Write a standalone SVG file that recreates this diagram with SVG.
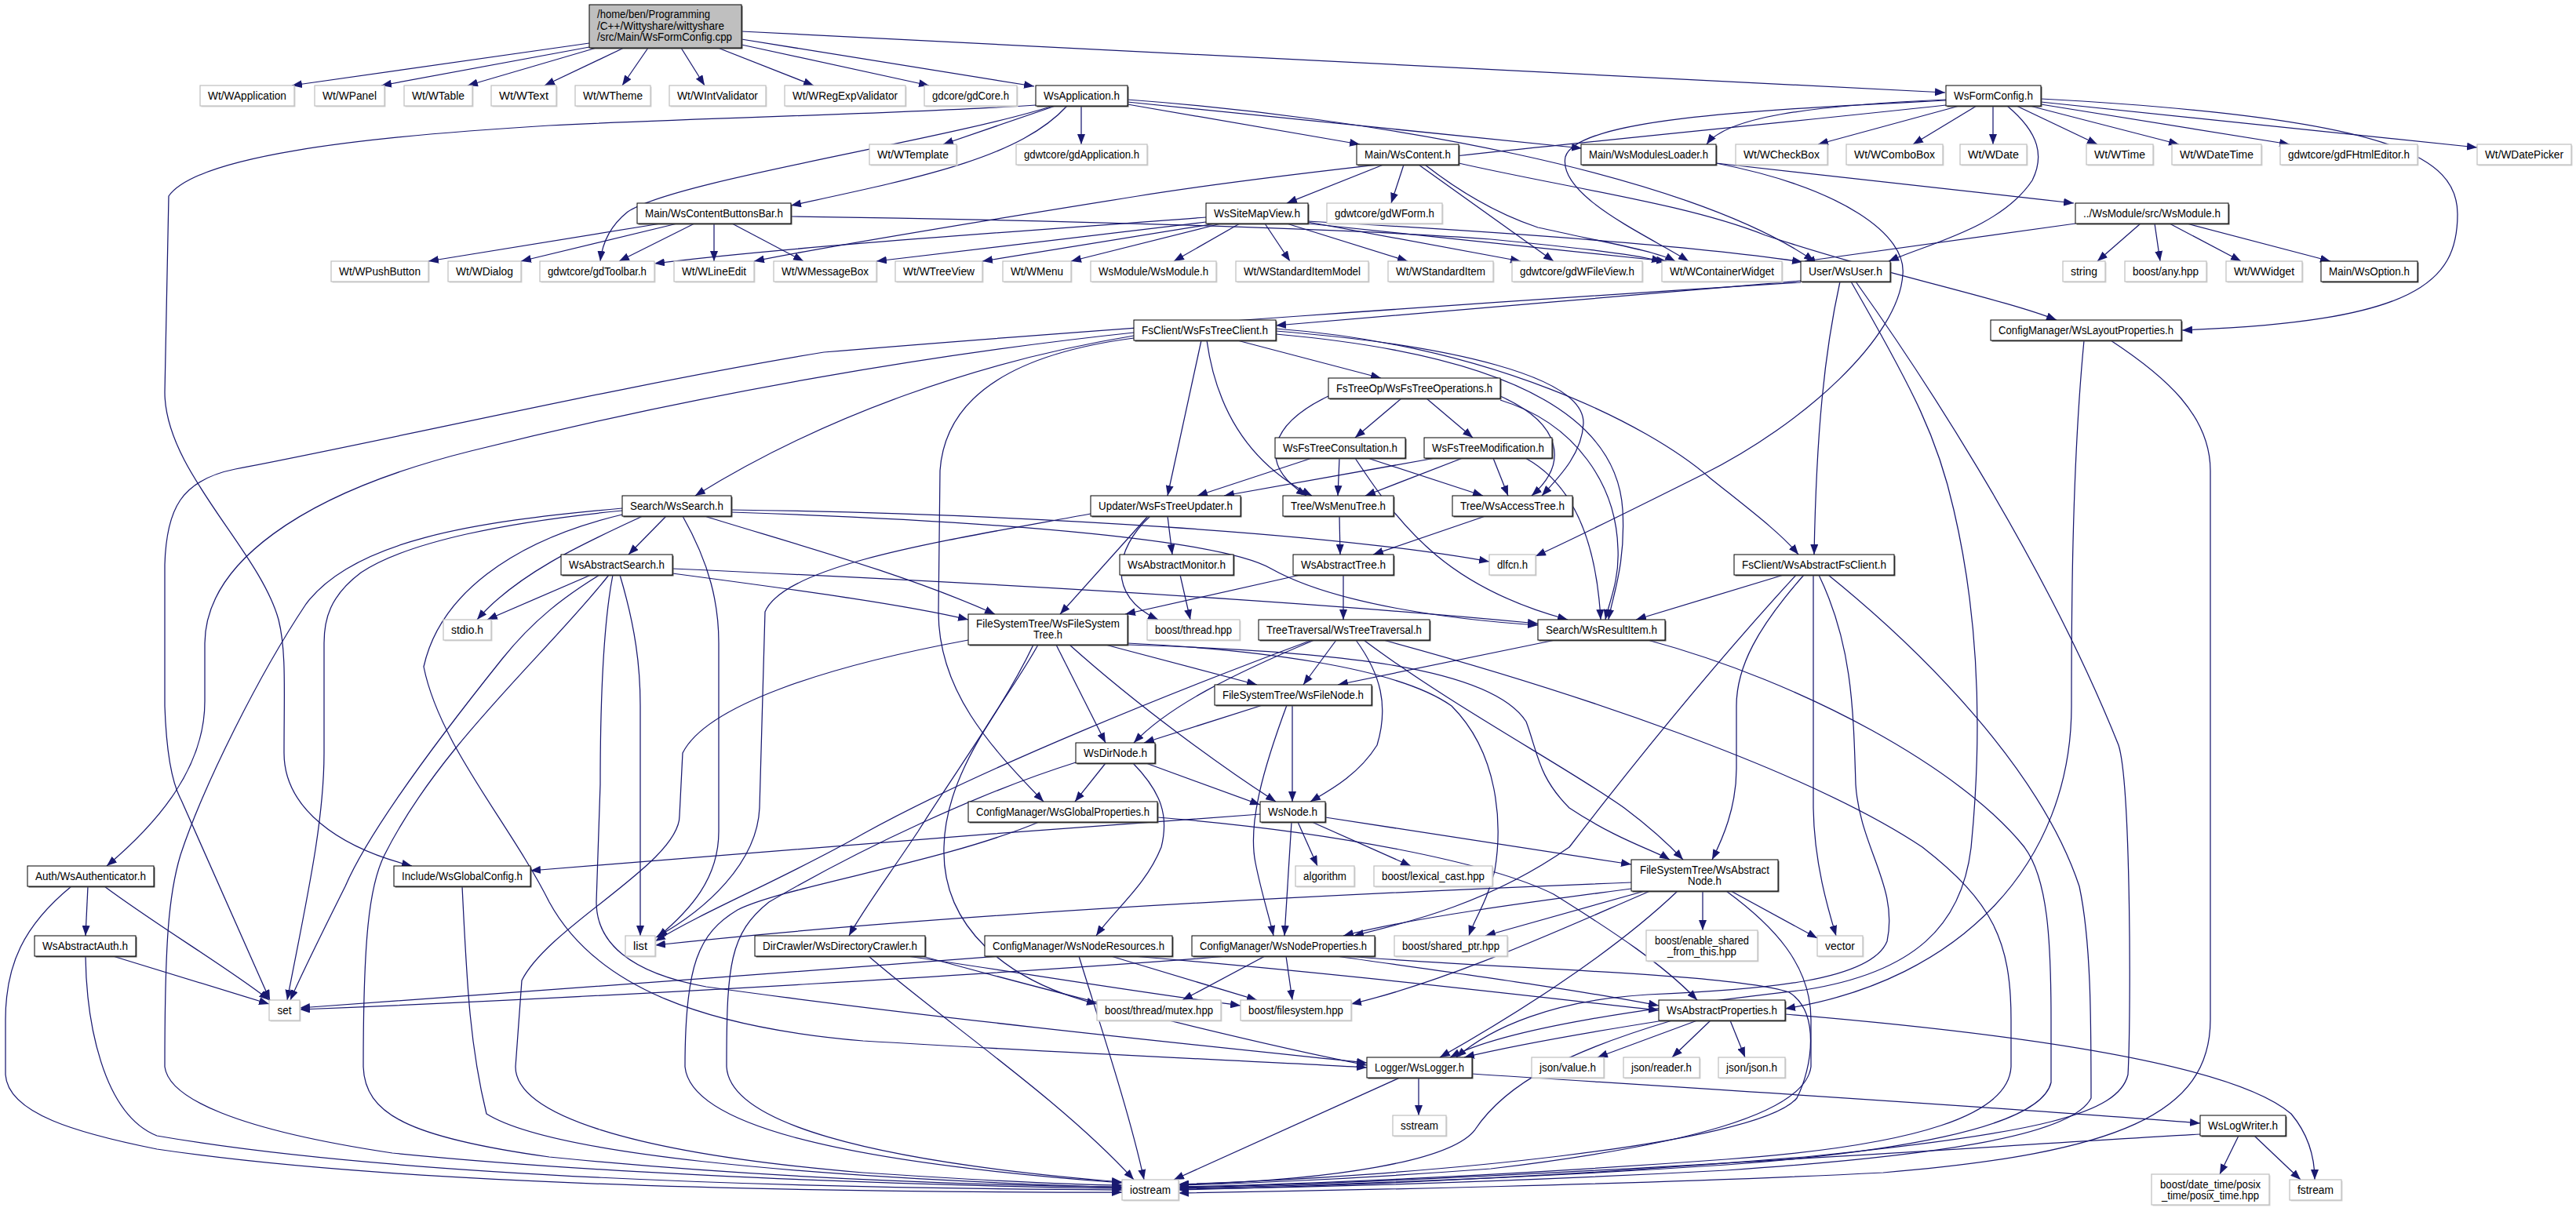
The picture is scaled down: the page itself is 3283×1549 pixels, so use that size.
<svg xmlns="http://www.w3.org/2000/svg" width="3283" height="1549" viewBox="0 0 3283 1549">
<defs>
<marker id="ah" markerUnits="userSpaceOnUse" markerWidth="14" markerHeight="10" refX="13" refY="5" orient="auto"><path d="M0,0 L13,5 L0,10 Z" fill="#191970"/></marker>
<style>
.e{fill:none;stroke:#191970;stroke-width:1.25;marker-end:url(#ah)}
.b{fill:#fff;stroke:#000;stroke-width:1}
.r{fill:#bfbfbf;stroke:#000;stroke-width:1}
.g{fill:#fff;stroke:#bfbfbf;stroke-width:1.2}
.s{fill:#555}
.sg{fill:#d6d6d6}
text{font-family:"Liberation Sans",Arial,Helvetica,sans-serif;font-size:14px;fill:#000;text-anchor:middle}
text.l{text-anchor:start}
</style>
</defs>
<rect x="0" y="0" width="3283" height="1549" fill="#fff"/>
<g id="edges">
<path class="e" d="M751,55 L372,109"/>
<path class="e" d="M751,60 L486,109"/>
<path class="e" d="M760,61 L596,109"/>
<path class="e" d="M795,61 L694,109"/>
<path class="e" d="M826,61 L793,109"/>
<path class="e" d="M868,61 L898,109"/>
<path class="e" d="M915,61 L1037,109"/>
<path class="e" d="M945,57 L1184,109"/>
<path class="e" d="M945,50 L1318,110"/>
<path class="e" d="M945,40 L2479,118"/>
<path class="e" d="M1345,135 L1202,184"/>
<path class="e" d="M1378,135 L1378,184"/>
<path class="e" d="M1437,133 L1733,184"/>
<path class="e" d="M1437,130 L2016,189"/>
<path class="e" d="M1437,127 C1750,150 2150,220 2312,333"/>
<path class="e" d="M1360,135 C1300,200 1180,225 1008,262"/>
<path class="e" d="M1342,135 C1200,180 860,230 800,270 C775,290 767,315 765,333"/>
<path class="e" d="M1320,134 C1150,145 900,150 700,160 C450,175 250,200 215,250 L210,500 C210,600 330,700 355,790 C365,830 362,880 362,960 C362,1030 430,1080 525,1104"/>
<path class="e" d="M2497,135 L2317,184"/>
<path class="e" d="M2519,135 L2438,184"/>
<path class="e" d="M2540,135 L2540,184"/>
<path class="e" d="M2570,135 L2673,184"/>
<path class="e" d="M2587,135 L2777,184"/>
<path class="e" d="M2601,133 L2918,184"/>
<path class="e" d="M2601,130 L3157,188"/>
<path class="e" d="M2601,126 C3050,150 3132,200 3132,273 C3132,360 3080,410 2781,421"/>
<path class="e" d="M2558,135 C2600,170 2605,200 2590,230 C2550,290 2460,310 2407,333"/>
<path class="e" d="M2480,134 C2150,170 1700,210 1450,250 C1200,290 1050,315 961,333"/>
<path class="e" d="M2480,127 C2300,135 2200,150 2175,184"/>
<path class="e" d="M2480,128 C2250,140 2010,150 1995,200 C1985,250 2100,300 2152,333"/>
<path class="e" d="M1763,210 L1640,259"/>
<path class="e" d="M1789,210 L1773,259"/>
<path class="e" d="M1808,210 L1980,333"/>
<path class="e" d="M1816,210 C1880,260 1930,280 1960,290 C2050,310 2110,320 2135,333"/>
<path class="e" d="M1859,208 C2000,240 2150,260 2250,300 C2400,350 2550,380 2621,408"/>
<path class="e" d="M2187,208 L2643,259"/>
<path class="e" d="M2187,208 C2350,240 2430,300 2425,350 C2420,430 2300,540 2170,605 C2080,650 2010,685 1957,709"/>
<path class="e" d="M2645,285 L2300,333"/>
<path class="e" d="M2728,285 L2673,333"/>
<path class="e" d="M2746,285 L2753,333"/>
<path class="e" d="M2765,285 L2856,333"/>
<path class="e" d="M2787,285 L2970,333"/>
<path class="e" d="M842,285 L546,333"/>
<path class="e" d="M863,285 L664,333"/>
<path class="e" d="M885,285 L789,333"/>
<path class="e" d="M910,285 L910,333"/>
<path class="e" d="M933,285 L1024,333"/>
<path class="e" d="M1008,276 C1300,280 1700,290 1900,305 C2000,315 2070,322 2118,333"/>
<path class="e" d="M1537,277 C1300,295 1000,315 834,336"/>
<path class="e" d="M1537,283 L1117,333"/>
<path class="e" d="M1549,285 L1252,333"/>
<path class="e" d="M1556,285 L1365,333"/>
<path class="e" d="M1580,285 L1496,333"/>
<path class="e" d="M1612,285 L1644,333"/>
<path class="e" d="M1640,285 L1794,333"/>
<path class="e" d="M1667,283 L1938,333"/>
<path class="e" d="M1667,285 L2124,333"/>
<path class="e" d="M1667,282 C1900,295 2150,312 2297,334"/>
<path class="e" d="M2295,358 C2100,375 1800,400 1626,415"/>
<path class="e" d="M2345,359 C2325,450 2315,550 2312,707"/>
<path class="e" d="M2295,360 C1900,385 1400,420 1050,449 C800,490 500,560 300,598 C230,612 212,650 210,720 L210,900 C212,960 220,1000 231,1020 L344,1275"/>
<path class="e" d="M2359,359 C2440,500 2470,560 2490,650 C2525,800 2525,950 2512,1081 C2500,1180 2440,1240 2300,1262 C2100,1285 1920,1310 1848,1348"/>
<path class="e" d="M2365,359 C2430,450 2600,700 2700,950 C2716,1000 2716,1300 2712,1370 C2700,1420 2600,1445 2300,1475 C2000,1500 1700,1512 1502,1517"/>
<path class="e" d="M2656,434 C2640,600 2640,800 2640,900 C2640,1100 2500,1250 2275,1286"/>
<path class="e" d="M2690,434 C2760,480 2817,530 2817,600 L2817,1300 C2817,1420 2700,1470 2400,1495 C2100,1510 1700,1518 1502,1521"/>
<path class="e" d="M1445,428 C1250,460 1050,530 886,632"/>
<path class="e" d="M1445,424 C1200,450 900,500 600,575 C380,630 262,720 261,820 L261,894 C261,980 200,1050 136,1104"/>
<path class="e" d="M1445,431 C1300,450 1205,500 1198,600 L1196,780 C1196,880 1260,950 1330,1022"/>
<path class="e" d="M1531,434 L1488,632"/>
<path class="e" d="M1538,434 C1550,520 1590,590 1672,632"/>
<path class="e" d="M1577,434 L1760,482"/>
<path class="e" d="M1626,422 C1850,440 2020,480 2018,540 C2016,580 1985,610 1965,632"/>
<path class="e" d="M1626,426 C1900,450 2060,520 2068,650 C2072,720 2055,760 2050,790"/>
<path class="e" d="M1626,419 C1900,440 2100,540 2180,610 C2230,650 2270,680 2292,707"/>
<path class="e" d="M1693,505 C1620,540 1600,590 1665,632"/>
<path class="e" d="M1786,508 L1727,558"/>
<path class="e" d="M1818,508 L1877,558"/>
<path class="e" d="M1912,505 C1990,540 2000,590 1952,632"/>
<path class="e" d="M1912,510 C2010,540 2060,620 2062,700 C2064,740 2050,770 2046,790"/>
<path class="e" d="M1672,584 L1526,632"/>
<path class="e" d="M1707,584 L1705,632"/>
<path class="e" d="M1743,584 L1890,632"/>
<path class="e" d="M1727,584 C1790,680 1850,750 1998,790"/>
<path class="e" d="M1829,584 L1560,632"/>
<path class="e" d="M1864,584 L1740,632"/>
<path class="e" d="M1903,584 L1922,632"/>
<path class="e" d="M1944,584 C2010,620 2035,700 2040,790"/>
<path class="e" d="M1390,655 C1200,690 1000,720 975,780 L968,1030 C965,1100 900,1160 836,1195"/>
<path class="e" d="M1466,658 C1420,700 1410,760 1476,790"/>
<path class="e" d="M1463,658 L1351,783"/>
<path class="e" d="M1488,658 L1494,707"/>
<path class="e" d="M1707,658 L1708,707"/>
<path class="e" d="M1893,658 L1750,707"/>
<path class="e" d="M1504,733 L1517,790"/>
<path class="e" d="M1657,733 L1434,783"/>
<path class="e" d="M1712,733 L1712,790"/>
<path class="e" d="M819,658 C750,690 660,730 608,790"/>
<path class="e" d="M849,658 L801,707"/>
<path class="e" d="M793,651 C650,665 520,690 460,730 C420,760 413,790 413,820 L413,960 C413,1050 390,1150 366,1275"/>
<path class="e" d="M793,648 C600,665 450,690 390,770 C330,860 260,1000 230,1090 C215,1140 210,1200 210,1360 C215,1400 300,1440 500,1470 C800,1500 1200,1512 1430,1515"/>
<path class="e" d="M793,656 C650,690 560,760 540,850 C560,950 650,1050 700,1150 C760,1260 900,1310 1100,1327 C1400,1345 1650,1355 1742,1361"/>
<path class="e" d="M870,658 C905,720 916,770 916,820 L916,1060 C916,1120 880,1160 838,1195"/>
<path class="e" d="M898,658 C1000,690 1150,730 1268,783"/>
<path class="e" d="M932,650 C1300,655 1700,680 1898,716"/>
<path class="e" d="M932,653 C1300,665 1560,690 1620,725 C1700,770 1850,790 1960,797"/>
<path class="e" d="M753,733 L621,790"/>
<path class="e" d="M764,733 C720,760 680,790 640,840 C560,940 470,1060 440,1130 C410,1190 385,1240 370,1275"/>
<path class="e" d="M776,733 C700,830 560,950 490,1090 C470,1130 463,1200 463,1360 C465,1420 520,1450 700,1475 C1000,1505 1300,1512 1430,1513"/>
<path class="e" d="M781,733 C768,800 765,900 765,1000 L760,1150 C760,1200 800,1240 900,1258 C1200,1300 1600,1340 1742,1355"/>
<path class="e" d="M790,733 C810,800 816,850 816,900 L816,1193"/>
<path class="e" d="M857,725 C1300,745 1700,770 1960,795"/>
<path class="e" d="M857,731 C1000,750 1150,770 1234,790"/>
<path class="e" d="M1672,816 C1500,880 1250,980 1100,1063 C1000,1120 900,1160 835,1200"/>
<path class="e" d="M1675,816 C1570,860 1490,900 1445,947"/>
<path class="e" d="M1703,816 L1661,873"/>
<path class="e" d="M1728,816 C1760,860 1770,900 1755,950 C1730,990 1690,1010 1670,1022"/>
<path class="e" d="M1738,816 C1850,900 2000,980 2070,1030 C2110,1060 2130,1080 2145,1096"/>
<path class="e" d="M1763,816 C2000,880 2300,980 2450,1080 C2540,1150 2563,1200 2563,1300 L2563,1360 C2560,1420 2450,1460 2200,1478 C1900,1500 1650,1510 1502,1513"/>
<path class="e" d="M1982,816 L1705,873"/>
<path class="e" d="M2100,816 C2300,870 2500,980 2580,1080 C2610,1120 2614,1200 2614,1300 L2614,1380 C2600,1440 2400,1470 2200,1485 C1900,1505 1650,1512 1502,1515"/>
<path class="e" d="M2273,733 L2085,790"/>
<path class="e" d="M2299,733 C2240,800 2213,850 2213,900 L2213,980 C2213,1030 2195,1070 2182,1096"/>
<path class="e" d="M2311,733 L2311,1030 C2312,1100 2330,1160 2340,1193"/>
<path class="e" d="M2289,733 C2200,830 2100,950 2000,1080 C1900,1150 1800,1175 1725,1193"/>
<path class="e" d="M2318,733 C2360,820 2362,900 2365,1000 C2370,1080 2420,1130 2405,1200 C2385,1250 2250,1262 2100,1268 C1980,1275 1900,1310 1856,1348"/>
<path class="e" d="M2330,733 C2450,830 2600,980 2650,1130 C2665,1200 2665,1300 2665,1400 C2640,1450 2450,1475 2200,1492 C1900,1508 1650,1514 1502,1516"/>
<path class="e" d="M1234,816 C1050,850 900,900 870,960 L866,1040 C866,1100 700,1180 665,1250 L657,1360 C657,1420 800,1470 1100,1495 C1300,1508 1400,1511 1430,1511"/>
<path class="e" d="M1317,822 C1280,900 1220,980 1170,1060 C1130,1120 1100,1160 1082,1193"/>
<path class="e" d="M1323,822 C1280,900 1205,980 1203,1080 C1200,1180 1280,1250 1398,1280"/>
<path class="e" d="M1346,822 L1409,947"/>
<path class="e" d="M1363,822 C1450,900 1560,980 1626,1022"/>
<path class="e" d="M1409,822 L1602,873"/>
<path class="e" d="M1437,820 C1600,828 1780,850 1850,900 C1910,960 1915,1050 1905,1110 C1895,1150 1880,1170 1872,1193"/>
<path class="e" d="M1437,822 C1700,830 1900,850 1945,920 C1960,960 1960,990 2000,1030 C2060,1070 2110,1085 2128,1096"/>
<path class="e" d="M1609,899 L1458,947"/>
<path class="e" d="M1640,899 C1610,980 1590,1050 1600,1100 C1608,1140 1618,1170 1623,1193"/>
<path class="e" d="M1647,899 L1647,1022"/>
<path class="e" d="M1371,972 C1250,1010 1100,1080 980,1150 C930,1190 926,1230 926,1360 C930,1430 1100,1480 1430,1507"/>
<path class="e" d="M1409,973 L1370,1022"/>
<path class="e" d="M1444,973 C1480,1010 1490,1040 1480,1080 C1460,1130 1420,1160 1397,1193"/>
<path class="e" d="M1458,972 L1606,1026"/>
<path class="e" d="M1324,1048 C1200,1100 1000,1130 940,1160 C890,1190 873,1230 873,1360 C880,1430 1050,1480 1430,1508"/>
<path class="e" d="M1475,1042 C1700,1060 1900,1100 1980,1140 C2060,1190 2120,1230 2163,1275"/>
<path class="e" d="M1606,1038 C1300,1060 900,1090 676,1110"/>
<path class="e" d="M1646,1048 L1637,1193"/>
<path class="e" d="M1654,1048 L1679,1104"/>
<path class="e" d="M1672,1048 L1798,1104"/>
<path class="e" d="M1689,1042 L2079,1102"/>
<path class="e" d="M2079,1125 C1700,1140 1200,1165 835,1205"/>
<path class="e" d="M2079,1133 C1950,1150 1800,1170 1712,1193"/>
<path class="e" d="M2096,1136 L1893,1193"/>
<path class="e" d="M2103,1136 C2000,1180 1850,1250 1722,1280"/>
<path class="e" d="M2138,1136 C2050,1220 1920,1300 1835,1348"/>
<path class="e" d="M2170,1136 L2170,1186"/>
<path class="e" d="M2206,1136 L2316,1196"/>
<path class="e" d="M2200,1136 C2260,1180 2308,1230 2308,1300 L2308,1360 C2300,1420 2150,1460 1900,1490 C1700,1505 1550,1510 1502,1511"/>
<path class="e" d="M1566,1219 C1300,1240 800,1270 382,1287"/>
<path class="e" d="M1612,1219 L1507,1275"/>
<path class="e" d="M1639,1219 L1647,1275"/>
<path class="e" d="M1703,1219 C1850,1240 2000,1260 2114,1282"/>
<path class="e" d="M1717,1219 C1900,1235 2200,1240 2280,1265 C2320,1290 2310,1360 2290,1400 C2240,1460 1800,1500 1502,1510"/>
<path class="e" d="M1275,1219 C1000,1240 600,1270 382,1285"/>
<path class="e" d="M1375,1219 C1400,1300 1440,1420 1458,1504"/>
<path class="e" d="M1416,1219 L1602,1275"/>
<path class="e" d="M1444,1219 C1700,1240 1950,1270 2114,1288"/>
<path class="e" d="M1107,1219 C1200,1300 1350,1400 1445,1504"/>
<path class="e" d="M1156,1219 C1300,1240 1450,1265 1581,1282"/>
<path class="e" d="M1175,1219 C1400,1280 1600,1330 1742,1358"/>
<path class="e" d="M112,1130 L109,1193"/>
<path class="e" d="M133,1130 C200,1180 300,1240 343,1275"/>
<path class="e" d="M91,1130 C30,1180 7,1230 7,1300 L7,1370 C10,1420 100,1445 200,1465 C500,1510 1000,1520 1430,1520"/>
<path class="e" d="M144,1219 L343,1280"/>
<path class="e" d="M109,1219 C110,1300 130,1420 200,1448 C500,1500 1000,1515 1430,1517"/>
<path class="e" d="M589,1130 C595,1250 598,1330 620,1420 C700,1470 1000,1500 1430,1514"/>
<path class="e" d="M1784,1374 L1496,1504"/>
<path class="e" d="M1808,1374 L1808,1422"/>
<path class="e" d="M1876,1369 C2200,1390 2600,1415 2804,1432"/>
<path class="e" d="M2120,1301 C2000,1320 1920,1335 1866,1348"/>
<path class="e" d="M2131,1301 C2000,1340 1920,1380 1880,1440 C1850,1480 1700,1505 1502,1510"/>
<path class="e" d="M2163,1301 L2036,1348"/>
<path class="e" d="M2180,1301 L2131,1348"/>
<path class="e" d="M2205,1301 L2224,1348"/>
<path class="e" d="M2275,1293 C2600,1320 2850,1360 2920,1420 C2945,1450 2950,1480 2950,1504"/>
<path class="e" d="M2853,1448 L2829,1497"/>
<path class="e" d="M2873,1448 L2932,1504"/>
<path class="e" d="M2804,1446 C2400,1470 1900,1505 1502,1514"/>
</g>
<g id="n-root"><rect class="s" x="752.5" y="7.5" width="194" height="55"/><rect class="r" x="751" y="6" width="194" height="55"/><text class="l" x="761" y="23" textLength="144" lengthAdjust="spacingAndGlyphs">/home/ben/Programming</text><text class="l" x="761" y="38" textLength="162" lengthAdjust="spacingAndGlyphs">/C++/Wittyshare/wittyshare</text><text class="l" x="761" y="52" textLength="172" lengthAdjust="spacingAndGlyphs">/src/Main/WsFormConfig.cpp</text></g>
<g id="n-wapp"><rect class="sg" x="256.5" y="110.5" width="120" height="26"/><rect class="g" x="255" y="109" width="120" height="26"/><text x="315" y="127" textLength="100" lengthAdjust="spacingAndGlyphs">Wt/WApplication</text></g>
<g id="n-wpanel"><rect class="sg" x="402.5" y="110.5" width="89" height="26"/><rect class="g" x="401" y="109" width="89" height="26"/><text x="445.5" y="127" textLength="69" lengthAdjust="spacingAndGlyphs">Wt/WPanel</text></g>
<g id="n-wtable"><rect class="sg" x="516.5" y="110.5" width="87" height="26"/><rect class="g" x="515" y="109" width="87" height="26"/><text x="558.5" y="127" textLength="67" lengthAdjust="spacingAndGlyphs">Wt/WTable</text></g>
<g id="n-wtext"><rect class="sg" x="627.5" y="110.5" width="83" height="26"/><rect class="g" x="626" y="109" width="83" height="26"/><text x="667.5" y="127" textLength="63" lengthAdjust="spacingAndGlyphs">Wt/WText</text></g>
<g id="n-wtheme"><rect class="sg" x="734.5" y="110.5" width="96" height="26"/><rect class="g" x="733" y="109" width="96" height="26"/><text x="781" y="127" textLength="76" lengthAdjust="spacingAndGlyphs">Wt/WTheme</text></g>
<g id="n-wintval"><rect class="sg" x="854.5" y="110.5" width="123" height="26"/><rect class="g" x="853" y="109" width="123" height="26"/><text x="914.5" y="127" textLength="103" lengthAdjust="spacingAndGlyphs">Wt/WIntValidator</text></g>
<g id="n-wregexp"><rect class="sg" x="1001.5" y="110.5" width="154" height="26"/><rect class="g" x="1000" y="109" width="154" height="26"/><text x="1077" y="127" textLength="134" lengthAdjust="spacingAndGlyphs">Wt/WRegExpValidator</text></g>
<g id="n-gdcore"><rect class="sg" x="1179.5" y="110.5" width="118" height="26"/><rect class="g" x="1178" y="109" width="118" height="26"/><text x="1237" y="127" textLength="98" lengthAdjust="spacingAndGlyphs">gdcore/gdCore.h</text></g>
<g id="n-wsapp"><rect class="s" x="1321.5" y="110.5" width="117" height="26"/><rect class="b" x="1320" y="109" width="117" height="26"/><text x="1378.5" y="127" textLength="97" lengthAdjust="spacingAndGlyphs">WsApplication.h</text></g>
<g id="n-wsformcfg"><rect class="s" x="2481.5" y="110.5" width="121" height="26"/><rect class="b" x="2480" y="109" width="121" height="26"/><text x="2540.5" y="127" textLength="101" lengthAdjust="spacingAndGlyphs">WsFormConfig.h</text></g>
<g id="n-wtemplate"><rect class="sg" x="1109.5" y="185.5" width="111" height="26"/><rect class="g" x="1108" y="184" width="111" height="26"/><text x="1163.5" y="202" textLength="91" lengthAdjust="spacingAndGlyphs">Wt/WTemplate</text></g>
<g id="n-gdapp"><rect class="sg" x="1296.5" y="185.5" width="167" height="26"/><rect class="g" x="1295" y="184" width="167" height="26"/><text x="1378.5" y="202" textLength="147" lengthAdjust="spacingAndGlyphs">gdwtcore/gdApplication.h</text></g>
<g id="n-wscontent"><rect class="s" x="1730.5" y="185.5" width="130" height="26"/><rect class="b" x="1729" y="184" width="130" height="26"/><text x="1794" y="202" textLength="110" lengthAdjust="spacingAndGlyphs">Main/WsContent.h</text></g>
<g id="n-wsmodloader"><rect class="s" x="2016.5" y="185.5" width="172" height="26"/><rect class="b" x="2015" y="184" width="172" height="26"/><text x="2101" y="202" textLength="152" lengthAdjust="spacingAndGlyphs">Main/WsModulesLoader.h</text></g>
<g id="n-wcheckbox"><rect class="sg" x="2213.5" y="185.5" width="117" height="26"/><rect class="g" x="2212" y="184" width="117" height="26"/><text x="2270.5" y="202" textLength="97" lengthAdjust="spacingAndGlyphs">Wt/WCheckBox</text></g>
<g id="n-wcombobox"><rect class="sg" x="2354.5" y="185.5" width="123" height="26"/><rect class="g" x="2353" y="184" width="123" height="26"/><text x="2414.5" y="202" textLength="103" lengthAdjust="spacingAndGlyphs">Wt/WComboBox</text></g>
<g id="n-wdate"><rect class="sg" x="2499.5" y="185.5" width="85" height="26"/><rect class="g" x="2498" y="184" width="85" height="26"/><text x="2540.5" y="202" textLength="65" lengthAdjust="spacingAndGlyphs">Wt/WDate</text></g>
<g id="n-wtime"><rect class="sg" x="2660.5" y="185.5" width="85" height="26"/><rect class="g" x="2659" y="184" width="85" height="26"/><text x="2701.5" y="202" textLength="65" lengthAdjust="spacingAndGlyphs">Wt/WTime</text></g>
<g id="n-wdatetime"><rect class="sg" x="2769.5" y="185.5" width="114" height="26"/><rect class="g" x="2768" y="184" width="114" height="26"/><text x="2825" y="202" textLength="94" lengthAdjust="spacingAndGlyphs">Wt/WDateTime</text></g>
<g id="n-gdfhtml"><rect class="sg" x="2907.5" y="185.5" width="175" height="26"/><rect class="g" x="2906" y="184" width="175" height="26"/><text x="2993.5" y="202" textLength="155" lengthAdjust="spacingAndGlyphs">gdwtcore/gdFHtmlEditor.h</text></g>
<g id="n-wdatepicker"><rect class="sg" x="3158.5" y="185.5" width="120" height="26"/><rect class="g" x="3157" y="184" width="120" height="26"/><text x="3217" y="202" textLength="100" lengthAdjust="spacingAndGlyphs">Wt/WDatePicker</text></g>
<g id="n-wscontentbb"><rect class="s" x="813.5" y="260.5" width="196" height="26"/><rect class="b" x="812" y="259" width="196" height="26"/><text x="910" y="277" textLength="176" lengthAdjust="spacingAndGlyphs">Main/WsContentButtonsBar.h</text></g>
<g id="n-wssitemap"><rect class="s" x="1538.5" y="260.5" width="130" height="26"/><rect class="b" x="1537" y="259" width="130" height="26"/><text x="1602" y="277" textLength="110" lengthAdjust="spacingAndGlyphs">WsSiteMapView.h</text></g>
<g id="n-gdwform"><rect class="sg" x="1692.5" y="260.5" width="147" height="26"/><rect class="g" x="1691" y="259" width="147" height="26"/><text x="1764.5" y="277" textLength="127" lengthAdjust="spacingAndGlyphs">gdwtcore/gdWForm.h</text></g>
<g id="n-wsmodsrc"><rect class="s" x="2646.5" y="260.5" width="195" height="26"/><rect class="b" x="2645" y="259" width="195" height="26"/><text x="2742.5" y="277" textLength="175" lengthAdjust="spacingAndGlyphs">../WsModule/src/WsModule.h</text></g>
<g id="n-wpushbutton"><rect class="sg" x="423.5" y="334.5" width="124" height="26"/><rect class="g" x="422" y="333" width="124" height="26"/><text x="484" y="351" textLength="104" lengthAdjust="spacingAndGlyphs">Wt/WPushButton</text></g>
<g id="n-wdialog"><rect class="sg" x="572.5" y="334.5" width="93" height="26"/><rect class="g" x="571" y="333" width="93" height="26"/><text x="617.5" y="351" textLength="73" lengthAdjust="spacingAndGlyphs">Wt/WDialog</text></g>
<g id="n-gdtoolbar"><rect class="sg" x="689.5" y="334.5" width="146" height="26"/><rect class="g" x="688" y="333" width="146" height="26"/><text x="761" y="351" textLength="126" lengthAdjust="spacingAndGlyphs">gdwtcore/gdToolbar.h</text></g>
<g id="n-wlineedit"><rect class="sg" x="860.5" y="334.5" width="102" height="26"/><rect class="g" x="859" y="333" width="102" height="26"/><text x="910" y="351" textLength="82" lengthAdjust="spacingAndGlyphs">Wt/WLineEdit</text></g>
<g id="n-wmsgbox"><rect class="sg" x="987.5" y="334.5" width="131" height="26"/><rect class="g" x="986" y="333" width="131" height="26"/><text x="1051.5" y="351" textLength="111" lengthAdjust="spacingAndGlyphs">Wt/WMessageBox</text></g>
<g id="n-wtreeview"><rect class="sg" x="1142.5" y="334.5" width="111" height="26"/><rect class="g" x="1141" y="333" width="111" height="26"/><text x="1196.5" y="351" textLength="91" lengthAdjust="spacingAndGlyphs">Wt/WTreeView</text></g>
<g id="n-wmenu"><rect class="sg" x="1279.5" y="334.5" width="87" height="26"/><rect class="g" x="1278" y="333" width="87" height="26"/><text x="1321.5" y="351" textLength="67" lengthAdjust="spacingAndGlyphs">Wt/WMenu</text></g>
<g id="n-wsmodmod"><rect class="sg" x="1391.5" y="334.5" width="160" height="26"/><rect class="g" x="1390" y="333" width="160" height="26"/><text x="1470" y="351" textLength="140" lengthAdjust="spacingAndGlyphs">WsModule/WsModule.h</text></g>
<g id="n-wstdmodel"><rect class="sg" x="1576.5" y="334.5" width="169" height="26"/><rect class="g" x="1575" y="333" width="169" height="26"/><text x="1659.5" y="351" textLength="149" lengthAdjust="spacingAndGlyphs">Wt/WStandardItemModel</text></g>
<g id="n-wstditem"><rect class="sg" x="1770.5" y="334.5" width="134" height="26"/><rect class="g" x="1769" y="333" width="134" height="26"/><text x="1836" y="351" textLength="114" lengthAdjust="spacingAndGlyphs">Wt/WStandardItem</text></g>
<g id="n-gdwfileview"><rect class="sg" x="1928.5" y="334.5" width="166" height="26"/><rect class="g" x="1927" y="333" width="166" height="26"/><text x="2010" y="351" textLength="146" lengthAdjust="spacingAndGlyphs">gdwtcore/gdWFileView.h</text></g>
<g id="n-wcontainer"><rect class="sg" x="2119.5" y="334.5" width="153" height="26"/><rect class="g" x="2118" y="333" width="153" height="26"/><text x="2194.5" y="351" textLength="133" lengthAdjust="spacingAndGlyphs">Wt/WContainerWidget</text></g>
<g id="n-wsuser"><rect class="s" x="2296.5" y="334.5" width="114" height="26"/><rect class="b" x="2295" y="333" width="114" height="26"/><text x="2352" y="351" textLength="94" lengthAdjust="spacingAndGlyphs">User/WsUser.h</text></g>
<g id="n-string"><rect class="sg" x="2630.5" y="334.5" width="54" height="26"/><rect class="g" x="2629" y="333" width="54" height="26"/><text x="2656" y="351" textLength="34" lengthAdjust="spacingAndGlyphs">string</text></g>
<g id="n-boostany"><rect class="sg" x="2709.5" y="334.5" width="104" height="26"/><rect class="g" x="2708" y="333" width="104" height="26"/><text x="2760" y="351" textLength="84" lengthAdjust="spacingAndGlyphs">boost/any.hpp</text></g>
<g id="n-wwidget"><rect class="sg" x="2838.5" y="334.5" width="97" height="26"/><rect class="g" x="2837" y="333" width="97" height="26"/><text x="2885.5" y="351" textLength="77" lengthAdjust="spacingAndGlyphs">Wt/WWidget</text></g>
<g id="n-wsoption"><rect class="s" x="2959.5" y="334.5" width="123" height="26"/><rect class="b" x="2958" y="333" width="123" height="26"/><text x="3019.5" y="351" textLength="103" lengthAdjust="spacingAndGlyphs">Main/WsOption.h</text></g>
<g id="n-fstreeclient"><rect class="s" x="1446.5" y="409.5" width="181" height="26"/><rect class="b" x="1445" y="408" width="181" height="26"/><text x="1535.5" y="426" textLength="161" lengthAdjust="spacingAndGlyphs">FsClient/WsFsTreeClient.h</text></g>
<g id="n-layoutprops"><rect class="s" x="2538.5" y="409.5" width="243" height="26"/><rect class="b" x="2537" y="408" width="243" height="26"/><text x="2658.5" y="426" textLength="223" lengthAdjust="spacingAndGlyphs">ConfigManager/WsLayoutProperties.h</text></g>
<g id="n-fstreeops"><rect class="s" x="1694.5" y="483.5" width="219" height="26"/><rect class="b" x="1693" y="482" width="219" height="26"/><text x="1802.5" y="500" textLength="199" lengthAdjust="spacingAndGlyphs">FsTreeOp/WsFsTreeOperations.h</text></g>
<g id="n-consult"><rect class="s" x="1626.5" y="559.5" width="166" height="26"/><rect class="b" x="1625" y="558" width="166" height="26"/><text x="1708" y="576" textLength="146" lengthAdjust="spacingAndGlyphs">WsFsTreeConsultation.h</text></g>
<g id="n-modif"><rect class="s" x="1816.5" y="559.5" width="163" height="26"/><rect class="b" x="1815" y="558" width="163" height="26"/><text x="1896.5" y="576" textLength="143" lengthAdjust="spacingAndGlyphs">WsFsTreeModification.h</text></g>
<g id="n-wssearch"><rect class="s" x="794.5" y="633.5" width="139" height="26"/><rect class="b" x="793" y="632" width="139" height="26"/><text x="862.5" y="650" textLength="119" lengthAdjust="spacingAndGlyphs">Search/WsSearch.h</text></g>
<g id="n-updater"><rect class="s" x="1391.5" y="633.5" width="191" height="26"/><rect class="b" x="1390" y="632" width="191" height="26"/><text x="1485.5" y="650" textLength="171" lengthAdjust="spacingAndGlyphs">Updater/WsFsTreeUpdater.h</text></g>
<g id="n-menutree"><rect class="s" x="1636.5" y="633.5" width="141" height="26"/><rect class="b" x="1635" y="632" width="141" height="26"/><text x="1705.5" y="650" textLength="121" lengthAdjust="spacingAndGlyphs">Tree/WsMenuTree.h</text></g>
<g id="n-accesstree"><rect class="s" x="1852.5" y="633.5" width="153" height="26"/><rect class="b" x="1851" y="632" width="153" height="26"/><text x="1927.5" y="650" textLength="133" lengthAdjust="spacingAndGlyphs">Tree/WsAccessTree.h</text></g>
<g id="n-abssearch"><rect class="s" x="716.5" y="708.5" width="142" height="26"/><rect class="b" x="715" y="707" width="142" height="26"/><text x="786" y="725" textLength="122" lengthAdjust="spacingAndGlyphs">WsAbstractSearch.h</text></g>
<g id="n-absmonitor"><rect class="s" x="1428.5" y="708.5" width="145" height="26"/><rect class="b" x="1427" y="707" width="145" height="26"/><text x="1499.5" y="725" textLength="125" lengthAdjust="spacingAndGlyphs">WsAbstractMonitor.h</text></g>
<g id="n-abstree"><rect class="s" x="1649.5" y="708.5" width="128" height="26"/><rect class="b" x="1648" y="707" width="128" height="26"/><text x="1712" y="725" textLength="108" lengthAdjust="spacingAndGlyphs">WsAbstractTree.h</text></g>
<g id="n-dlfcn"><rect class="sg" x="1899.5" y="708.5" width="59" height="26"/><rect class="g" x="1898" y="707" width="59" height="26"/><text x="1927.5" y="725" textLength="39" lengthAdjust="spacingAndGlyphs">dlfcn.h</text></g>
<g id="n-absfsclient"><rect class="s" x="2211.5" y="708.5" width="204" height="26"/><rect class="b" x="2210" y="707" width="204" height="26"/><text x="2312" y="725" textLength="184" lengthAdjust="spacingAndGlyphs">FsClient/WsAbstractFsClient.h</text></g>
<g id="n-stdio"><rect class="sg" x="566.5" y="791.5" width="61" height="26"/><rect class="g" x="565" y="790" width="61" height="26"/><text x="595.5" y="808" textLength="41" lengthAdjust="spacingAndGlyphs">stdio.h</text></g>
<g id="n-fstree"><rect class="s" x="1235.5" y="784.5" width="203" height="39"/><rect class="b" x="1234" y="783" width="203" height="39"/><text x="1335.5" y="800" textLength="183" lengthAdjust="spacingAndGlyphs">FileSystemTree/WsFileSystem</text><text x="1335.5" y="814" textLength="37" lengthAdjust="spacingAndGlyphs">Tree.h</text></g>
<g id="n-boostthread"><rect class="sg" x="1463.5" y="791.5" width="118" height="26"/><rect class="g" x="1462" y="790" width="118" height="26"/><text x="1521" y="808" textLength="98" lengthAdjust="spacingAndGlyphs">boost/thread.hpp</text></g>
<g id="n-treetrav"><rect class="s" x="1605.5" y="791.5" width="218" height="26"/><rect class="b" x="1604" y="790" width="218" height="26"/><text x="1713" y="808" textLength="198" lengthAdjust="spacingAndGlyphs">TreeTraversal/WsTreeTraversal.h</text></g>
<g id="n-resultitem"><rect class="s" x="1961.5" y="791.5" width="162" height="26"/><rect class="b" x="1960" y="790" width="162" height="26"/><text x="2041" y="808" textLength="142" lengthAdjust="spacingAndGlyphs">Search/WsResultItem.h</text></g>
<g id="n-filenode"><rect class="s" x="1549.5" y="874.5" width="200" height="26"/><rect class="b" x="1548" y="873" width="200" height="26"/><text x="1648" y="891" textLength="180" lengthAdjust="spacingAndGlyphs">FileSystemTree/WsFileNode.h</text></g>
<g id="n-dirnode"><rect class="s" x="1372.5" y="948.5" width="101" height="26"/><rect class="b" x="1371" y="947" width="101" height="26"/><text x="1421.5" y="965" textLength="81" lengthAdjust="spacingAndGlyphs">WsDirNode.h</text></g>
<g id="n-globalprops"><rect class="s" x="1235.5" y="1023.5" width="241" height="26"/><rect class="b" x="1234" y="1022" width="241" height="26"/><text x="1354.5" y="1040" textLength="221" lengthAdjust="spacingAndGlyphs">ConfigManager/WsGlobalProperties.h</text></g>
<g id="n-wsnode"><rect class="s" x="1607.5" y="1023.5" width="83" height="26"/><rect class="b" x="1606" y="1022" width="83" height="26"/><text x="1647.5" y="1040" textLength="63" lengthAdjust="spacingAndGlyphs">WsNode.h</text></g>
<g id="n-auth"><rect class="s" x="36.5" y="1105.5" width="161" height="26"/><rect class="b" x="35" y="1104" width="161" height="26"/><text x="115.5" y="1122" textLength="141" lengthAdjust="spacingAndGlyphs">Auth/WsAuthenticator.h</text></g>
<g id="n-globalcfg"><rect class="s" x="503.5" y="1105.5" width="174" height="26"/><rect class="b" x="502" y="1104" width="174" height="26"/><text x="589" y="1122" textLength="154" lengthAdjust="spacingAndGlyphs">Include/WsGlobalConfig.h</text></g>
<g id="n-algorithm"><rect class="sg" x="1652.5" y="1105.5" width="75" height="26"/><rect class="g" x="1651" y="1104" width="75" height="26"/><text x="1688.5" y="1122" textLength="55" lengthAdjust="spacingAndGlyphs">algorithm</text></g>
<g id="n-lexcast"><rect class="sg" x="1752.5" y="1105.5" width="151" height="26"/><rect class="g" x="1751" y="1104" width="151" height="26"/><text x="1826.5" y="1122" textLength="131" lengthAdjust="spacingAndGlyphs">boost/lexical_cast.hpp</text></g>
<g id="n-absnode"><rect class="s" x="2080.5" y="1097.5" width="187" height="40"/><rect class="b" x="2079" y="1096" width="187" height="40"/><text x="2172.5" y="1114" textLength="165" lengthAdjust="spacingAndGlyphs">FileSystemTree/WsAbstract</text><text x="2172.5" y="1128" textLength="43" lengthAdjust="spacingAndGlyphs">Node.h</text></g>
<g id="n-absauth"><rect class="s" x="45.5" y="1194.5" width="129" height="26"/><rect class="b" x="44" y="1193" width="129" height="26"/><text x="108.5" y="1211" textLength="109" lengthAdjust="spacingAndGlyphs">WsAbstractAuth.h</text></g>
<g id="n-list"><rect class="sg" x="798.5" y="1194.5" width="38" height="26"/><rect class="g" x="797" y="1193" width="38" height="26"/><text x="816" y="1211" textLength="18" lengthAdjust="spacingAndGlyphs">list</text></g>
<g id="n-dircrawler"><rect class="s" x="963.5" y="1194.5" width="217" height="26"/><rect class="b" x="962" y="1193" width="217" height="26"/><text x="1070.5" y="1211" textLength="197" lengthAdjust="spacingAndGlyphs">DirCrawler/WsDirectoryCrawler.h</text></g>
<g id="n-noderes"><rect class="s" x="1256.5" y="1194.5" width="239" height="26"/><rect class="b" x="1255" y="1193" width="239" height="26"/><text x="1374.5" y="1211" textLength="219" lengthAdjust="spacingAndGlyphs">ConfigManager/WsNodeResources.h</text></g>
<g id="n-nodeprops"><rect class="s" x="1520.5" y="1194.5" width="233" height="26"/><rect class="b" x="1519" y="1193" width="233" height="26"/><text x="1635.5" y="1211" textLength="213" lengthAdjust="spacingAndGlyphs">ConfigManager/WsNodeProperties.h</text></g>
<g id="n-sharedptr"><rect class="sg" x="1778.5" y="1194.5" width="144" height="26"/><rect class="g" x="1777" y="1193" width="144" height="26"/><text x="1849" y="1211" textLength="124" lengthAdjust="spacingAndGlyphs">boost/shared_ptr.hpp</text></g>
<g id="n-enableshared"><rect class="sg" x="2099.5" y="1187.5" width="142" height="39"/><rect class="g" x="2098" y="1186" width="142" height="39"/><text x="2169" y="1204" textLength="120" lengthAdjust="spacingAndGlyphs">boost/enable_shared</text><text x="2169" y="1218" textLength="88" lengthAdjust="spacingAndGlyphs">_from_this.hpp</text></g>
<g id="n-vector"><rect class="sg" x="2317.5" y="1194.5" width="58" height="26"/><rect class="g" x="2316" y="1193" width="58" height="26"/><text x="2345" y="1211" textLength="38" lengthAdjust="spacingAndGlyphs">vector</text></g>
<g id="n-set"><rect class="sg" x="344.5" y="1276.5" width="39" height="26"/><rect class="g" x="343" y="1275" width="39" height="26"/><text x="362.5" y="1293" textLength="18" lengthAdjust="spacingAndGlyphs">set</text></g>
<g id="n-mutex"><rect class="sg" x="1399.5" y="1276.5" width="158" height="26"/><rect class="g" x="1398" y="1275" width="158" height="26"/><text x="1477" y="1293" textLength="138" lengthAdjust="spacingAndGlyphs">boost/thread/mutex.hpp</text></g>
<g id="n-filesystem"><rect class="sg" x="1582.5" y="1276.5" width="141" height="26"/><rect class="g" x="1581" y="1275" width="141" height="26"/><text x="1651.5" y="1293" textLength="121" lengthAdjust="spacingAndGlyphs">boost/filesystem.hpp</text></g>
<g id="n-absprops"><rect class="s" x="2115.5" y="1276.5" width="161" height="26"/><rect class="b" x="2114" y="1275" width="161" height="26"/><text x="2194.5" y="1293" textLength="141" lengthAdjust="spacingAndGlyphs">WsAbstractProperties.h</text></g>
<g id="n-logger"><rect class="s" x="1743.5" y="1349.5" width="134" height="26"/><rect class="b" x="1742" y="1348" width="134" height="26"/><text x="1809" y="1366" textLength="114" lengthAdjust="spacingAndGlyphs">Logger/WsLogger.h</text></g>
<g id="n-jsonvalue"><rect class="sg" x="1953.5" y="1349.5" width="92" height="26"/><rect class="g" x="1952" y="1348" width="92" height="26"/><text x="1998" y="1366" textLength="72" lengthAdjust="spacingAndGlyphs">json/value.h</text></g>
<g id="n-jsonreader"><rect class="sg" x="2070.5" y="1349.5" width="97" height="26"/><rect class="g" x="2069" y="1348" width="97" height="26"/><text x="2117.5" y="1366" textLength="77" lengthAdjust="spacingAndGlyphs">json/reader.h</text></g>
<g id="n-jsonjson"><rect class="sg" x="2191.5" y="1349.5" width="85" height="26"/><rect class="g" x="2190" y="1348" width="85" height="26"/><text x="2232.5" y="1366" textLength="65" lengthAdjust="spacingAndGlyphs">json/json.h</text></g>
<g id="n-sstream"><rect class="sg" x="1776.5" y="1423.5" width="68" height="26"/><rect class="g" x="1775" y="1422" width="68" height="26"/><text x="1809" y="1440" textLength="48" lengthAdjust="spacingAndGlyphs">sstream</text></g>
<g id="n-logwriter"><rect class="s" x="2805.5" y="1423.5" width="109" height="26"/><rect class="b" x="2804" y="1422" width="109" height="26"/><text x="2858.5" y="1440" textLength="89" lengthAdjust="spacingAndGlyphs">WsLogWriter.h</text></g>
<g id="n-iostream"><rect class="sg" x="1431.5" y="1505.5" width="72" height="26"/><rect class="g" x="1430" y="1504" width="72" height="26"/><text x="1466" y="1522" textLength="52" lengthAdjust="spacingAndGlyphs">iostream</text></g>
<g id="n-posixtime"><rect class="sg" x="2743.5" y="1498.5" width="150" height="39"/><rect class="g" x="2742" y="1497" width="150" height="39"/><text x="2817" y="1515" textLength="128" lengthAdjust="spacingAndGlyphs">boost/date_time/posix</text><text x="2817" y="1529" textLength="124" lengthAdjust="spacingAndGlyphs">_time/posix_time.hpp</text></g>
<g id="n-fstream"><rect class="sg" x="2919.5" y="1505.5" width="66" height="26"/><rect class="g" x="2918" y="1504" width="66" height="26"/><text x="2951" y="1522" textLength="46" lengthAdjust="spacingAndGlyphs">fstream</text></g>
</svg>
